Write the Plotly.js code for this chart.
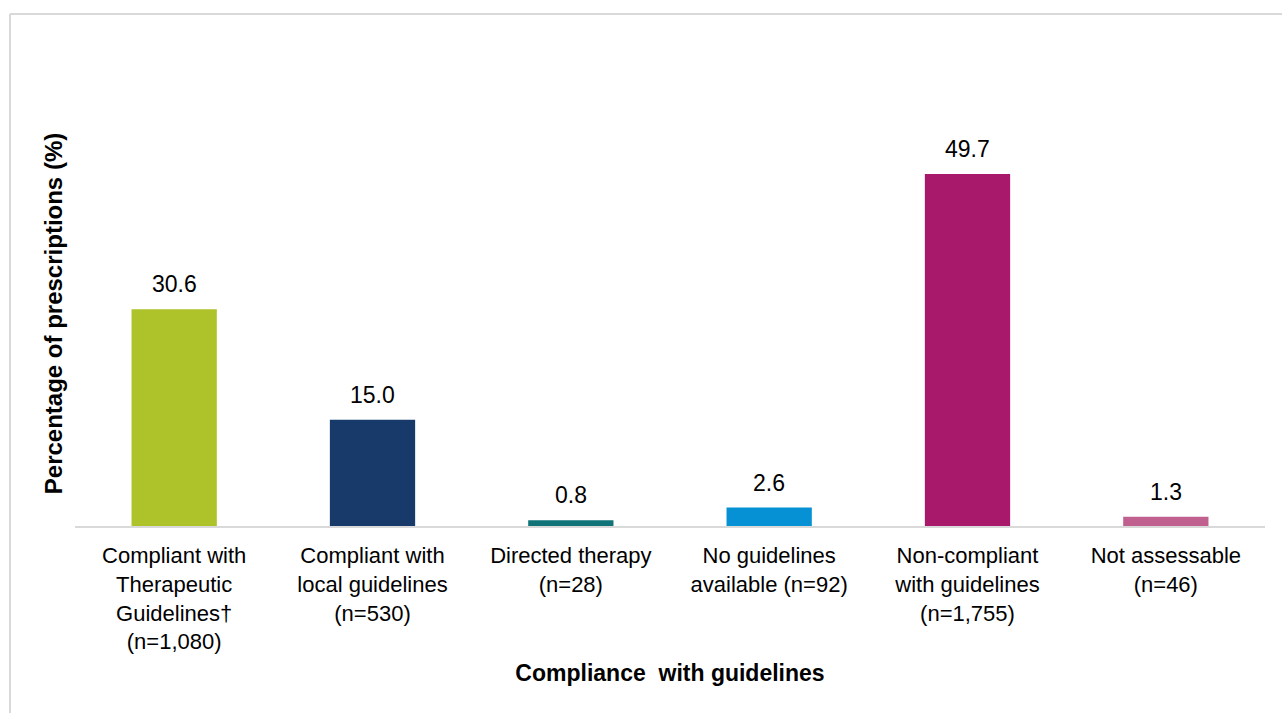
<!DOCTYPE html>
<html>
<head>
<meta charset="utf-8">
<script src="https://cdn.plot.ly/plotly-3.0.1.min.js"></script>
<style>
html,body{margin:0;padding:0;background:#fff;}
#chart{width:1282px;height:713px;}
</style>
</head>
<body>
<div id="chart"></div>
<script>
const categories = [
  "Compliant with<br>Therapeutic<br>Guidelines†<br>(n=1,080)",
  "Compliant with<br>local guidelines<br>(n=530)",
  "Directed therapy<br>(n=28)",
  "No guidelines<br>available (n=92)",
  "Non-compliant<br>with guidelines<br>(n=1,755)",
  "Not assessable<br>(n=46)"
];
const percentages = [30.6, 15.0, 0.8, 2.6, 49.7, 1.3];
const valueLabels = ["30.6", "15.0", "0.8", "2.6", "49.7", "1.3"];
const barColors = ["#aec22a", "#173a6b", "#0f7378", "#0591d3", "#a8196b", "#c0608f"];

const FONT = "Liberation Sans, Arial, sans-serif";

const trace = {
  type: "bar",
  x: categories,
  y: percentages,
  marker: {color: barColors},
  width: 0.43,
  hoverinfo: "skip"
};

const annotations = categories.map((c, i) => ({
  x: c, y: percentages[i], xref: "x", yref: "y",
  text: valueLabels[i], showarrow: false,
  yanchor: "bottom", yshift: 10,
  font: {family: FONT, size: 23, color: "#000"}
}));

const frameColor = "#d9d9d9";
const shapes = [
  {type: "line", xref: "paper", yref: "paper", x0: -0.0546, x1: 1.02, y0: 1.205, y1: 1.205,
   line: {color: frameColor, width: 2}},
  {type: "line", xref: "paper", yref: "paper", x0: -0.0546, x1: -0.0546, y0: 1.205, y1: -0.5,
   line: {color: frameColor, width: 2}}
];

const layout = {
  width: 1282, height: 713,
  margin: {l: 75, r: 17, t: 101, b: 187},
  paper_bgcolor: "#fff", plot_bgcolor: "#fff",
  showlegend: false,
  font: {family: FONT, color: "#000"},
  bargap: 0.57,
  xaxis: {
    showline: true, linecolor: frameColor, linewidth: 2,
    ticks: "", showgrid: false, zeroline: false,
    tickfont: {family: FONT, size: 22, color: "#000"},
    tickangle: 0,
    ticklabelstandoff: 9,
    title: {text: "<b>Compliance  with guidelines</b>", font: {family: FONT, size: 23, color: "#000"}, standoff: 12}
  },
  yaxis: {
    range: [0, 60], showticklabels: false, showgrid: false, zeroline: false,
    showline: false, ticks: "",
    title: {text: "<b>Percentage of prescriptions (%)</b>", font: {family: FONT, size: 24, color: "#000"}, standoff: 4}
  },
  annotations: annotations,
  shapes: shapes
};

Plotly.newPlot("chart", [trace], layout, {displayModeBar: false, staticPlot: true});
</script>
</body>
</html>
